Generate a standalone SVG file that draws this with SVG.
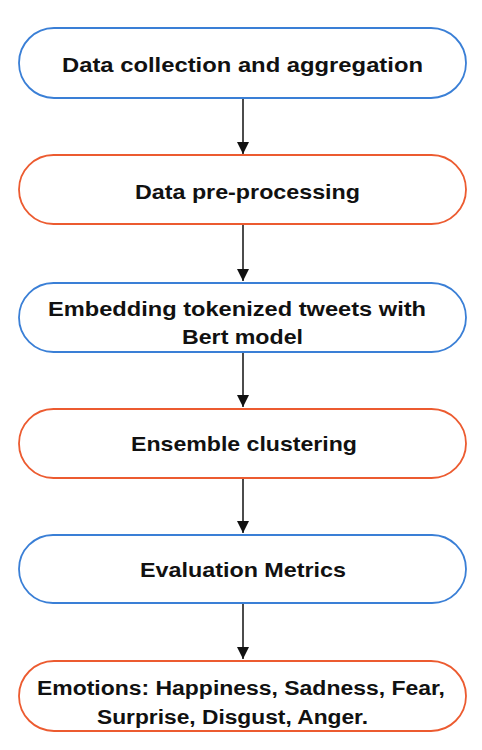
<svg xmlns="http://www.w3.org/2000/svg" width="482" height="750" viewBox="0 0 482 750">
<style>
.b{fill:#fff;stroke:#3a7fd6;stroke-width:1.8}
.o{fill:#fff;stroke:#ec5b30;stroke-width:1.8}
.t{font-family:"Liberation Sans",Arial,sans-serif;font-weight:bold;font-size:21px;fill:#111}
.s{font-size:20px}
.c{stroke:#111;stroke-width:1.5;fill:none}
</style>
<defs>
<marker id="ah" markerWidth="13" markerHeight="12" refX="12" refY="6" orient="auto" markerUnits="userSpaceOnUse">
<path d="M0,0 L12,6 L0,12 Z" fill="#111"/>
</marker>
</defs>
<rect width="482" height="750" fill="#fff"/>
<g id="connectors">
<line class="c" x1="243" y1="98" x2="243" y2="154" marker-end="url(#ah)"/>
<line class="c" x1="243" y1="224" x2="243" y2="281" marker-end="url(#ah)"/>
<line class="c" x1="243" y1="352" x2="243" y2="407" marker-end="url(#ah)"/>
<line class="c" x1="243" y1="478" x2="243" y2="533" marker-end="url(#ah)"/>
<line class="c" x1="243" y1="603" x2="243" y2="659" marker-end="url(#ah)"/>
</g>
<g id="n1">
<rect class="b" x="19" y="28" width="447" height="70" rx="35"/>
<text class="t" x="62" y="72" textLength="361" lengthAdjust="spacingAndGlyphs">Data collection and aggregation</text>
</g>
<g id="n2">
<rect class="o" x="19" y="155" width="447" height="69" rx="34.5"/>
<text class="t" x="135" y="199" textLength="225" lengthAdjust="spacingAndGlyphs">Data pre-processing</text>
</g>
<g id="n3">
<rect class="b" x="19" y="283" width="447" height="69" rx="34.5"/>
<text class="t s" x="48" y="316" textLength="378" lengthAdjust="spacingAndGlyphs">Embedding tokenized tweets with</text>
<text class="t s" x="182" y="344" textLength="121" lengthAdjust="spacingAndGlyphs">Bert model</text>
</g>
<g id="n4">
<rect class="o" x="19" y="409" width="447" height="69" rx="34.5"/>
<text class="t" x="131" y="451" textLength="226" lengthAdjust="spacingAndGlyphs">Ensemble clustering</text>
</g>
<g id="n5">
<rect class="b" x="19" y="535" width="447" height="68" rx="34"/>
<text class="t" x="140" y="577" textLength="206" lengthAdjust="spacingAndGlyphs">Evaluation Metrics</text>
</g>
<g id="n6">
<rect class="o" x="19" y="661" width="447" height="70" rx="35"/>
<text class="t s" x="37" y="695" textLength="408" lengthAdjust="spacingAndGlyphs">Emotions: Happiness, Sadness, Fear,</text>
<text class="t s" x="97" y="724" textLength="271" lengthAdjust="spacingAndGlyphs">Surprise, Disgust, Anger.</text>
</g>
</svg>
